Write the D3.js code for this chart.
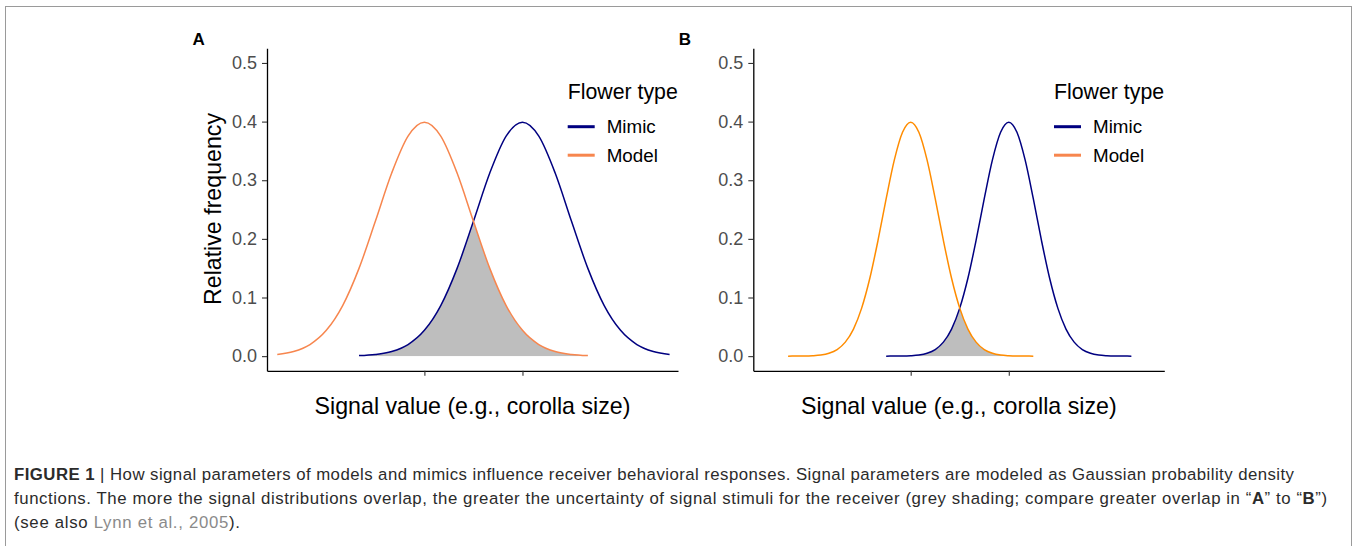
<!DOCTYPE html>
<html>
<head>
<meta charset="utf-8">
<script src="https://cdn.jsdelivr.net/npm/d3@7"></script>
<style>
  body { margin: 0; background: #fff; }
  text { font-family: "Liberation Sans", Arial, Helvetica, sans-serif; }
</style>
</head>
<body>
<svg id="chart" width="1357" height="546"></svg>
<script>
// panel A: signal grid (model mean at 0, mimic mean at 2.1)
const xGridA = [-3.15, -2.8, -2.45, -2.1, -1.75, -1.4, -1.05, -0.7, -0.35, 0, 0.35, 0.7, 1.05,
  1.4, 1.75, 2.1, 2.45, 2.8, 3.15, 3.5, 3.85, 4.2, 4.55, 4.9, 5.25];
const modelA = [0.0028, 0.0079, 0.0198, 0.0440, 0.0863, 0.1497, 0.2299, 0.3123, 0.3752, 0.3989,
  0.3752, 0.3123, 0.2299, 0.1497, 0.0863, 0.0440, 0.0198, 0.0079, 0.0028, 0.0009,
  null, null, null, null, null];
const mimicA = [null, null, null, null, null,
  0.0009, 0.0028, 0.0079, 0.0198, 0.0440, 0.0863, 0.1497, 0.2299, 0.3123, 0.3752, 0.3989,
  0.3752, 0.3123, 0.2299, 0.1497, 0.0863, 0.0440, 0.0198, 0.0079, 0.0028];

// panel B: narrower distributions, same means
const xGridB = [-2.625, -2.45, -2.275, -2.1, -1.925, -1.75, -1.575, -1.4, -1.225, -1.05, -0.875,
  -0.7, -0.525, -0.35, -0.175, 0, 0.175, 0.35, 0.525, 0.7, 0.875, 1.05, 1.225, 1.4, 1.575, 1.75,
  1.925, 2.1, 2.275, 2.45, 2.625, 2.8, 2.975, 3.15, 3.325, 3.5, 3.675, 3.85, 4.025, 4.2, 4.375,
  4.55, 4.725];
const modelB = [0.0000, 0.0001, 0.0002, 0.0007, 0.0019, 0.0049, 0.0113, 0.0239, 0.0462, 0.0819,
  0.1328, 0.1973, 0.2685, 0.3346, 0.3817, 0.3989, 0.3817, 0.3346, 0.2685, 0.1973, 0.1328,
  0.0819, 0.0462, 0.0239, 0.0113, 0.0049, 0.0019, 0.0007, 0.0002, 0.0001, 0.0000,
  null, null, null, null, null, null, null, null, null, null, null, null];
const mimicB = [null, null, null, null, null, null, null, null, null, null, null, null,
  0.0000, 0.0001, 0.0002, 0.0007, 0.0019, 0.0049, 0.0113, 0.0239, 0.0462, 0.0819,
  0.1328, 0.1973, 0.2685, 0.3346, 0.3817, 0.3989, 0.3817, 0.3346, 0.2685, 0.1973, 0.1328,
  0.0819, 0.0462, 0.0239, 0.0113, 0.0049, 0.0019, 0.0007, 0.0002, 0.0001, 0.0000];

const meanTicks = [0, 2.1];
const yTicks = [0, 0.1, 0.2, 0.3, 0.4, 0.5];
const legendTitle = 'Flower type';
const legendLabels = ['Mimic', 'Model'];
const xTitle = 'Signal value (e.g., corolla size)';
const yTitle = 'Relative frequency';

const svg = d3.select('#chart');
svg.append('rect').attr('width', 1357).attr('height', 546).attr('fill', '#fff');
svg.append('rect')
  .attr('x', 5.5).attr('y', 6.5)
  .attr('width', 1346).attr('height', 600)
  .attr('fill', 'none').attr('stroke', '#9a9a9a');

const panels = [
  { label: 'A', dx: 0, xs: xGridA, model: modelA, mimic: mimicA, modelColor: '#F7864E' },
  { label: 'B', dx: 486.3, xs: xGridB, model: modelB, mimic: mimicB, modelColor: '#FF8C00' },
];
const mimicColor = '#000080';
const legendModelColor = '#F7864E';

let x = d3.scaleLinear().domain([-3.37, 5.43]).range([267, 678]);
let y = d3.scaleLinear().domain([-0.025, 0.525]).range([370.8, 48.3]);

panels.forEach((p, pi) => {
  let g = svg.append('g').attr('transform', `translate(${p.dx},0)`);
  let pts = k => p.xs.map((v, i) => ({ x: v, y: p[k][i] }));
  let modelPts = pts('model');
  let mimicPts = pts('mimic');

  let line = d3.line()
    .defined(d => d.y != null)
    .x(d => x(d.x)).y(d => y(d.y))
    .curve(d3.curveMonotoneX);
  let area = d3.area()
    .defined(d => d.y != null)
    .x(d => x(d.x)).y0(y(0)).y1(d => y(d.y))
    .curve(d3.curveMonotoneX);

  // overlap = area under mimic, clipped to area under model
  let clipId = 'clip' + pi;
  g.append('clipPath').attr('id', clipId)
    .append('path').attr('d', area(modelPts));
  g.append('path')
    .attr('d', area(mimicPts))
    .attr('clip-path', `url(#${clipId})`)
    .attr('fill', '#BEBEBE');

  g.append('path').attr('d', line(mimicPts))
    .attr('fill', 'none').attr('stroke', mimicColor).attr('stroke-width', 1.5);
  g.append('path').attr('d', line(modelPts))
    .attr('fill', 'none').attr('stroke', p.modelColor).attr('stroke-width', 1.5);

  // axes
  let yAxis = g.append('g')
    .attr('transform', `translate(${x.range()[0]},0)`)
    .call(d3.axisLeft(y).tickValues(yTicks).tickFormat(d3.format('.1f')).tickSize(5).tickSizeOuter(0).tickPadding(5));
  let xAxis = g.append('g')
    .attr('transform', `translate(0,${y.range()[0]})`)
    .call(d3.axisBottom(x).tickValues(meanTicks).tickFormat('').tickSize(5).tickSizeOuter(0));
  [yAxis, xAxis].forEach(a => {
    a.select('.domain').attr('stroke', '#000').attr('stroke-width', 1.3);
    a.selectAll('.tick line').attr('stroke', '#333').attr('stroke-width', 1.1);
    a.selectAll('.tick text').attr('fill', '#4D4D4D').style('font-size', '18px')
      .style('font-family', '"Liberation Sans", Arial, sans-serif');
  });

  g.append('text').attr('x', 192.5).attr('y', 45)
    .style('font-size', '17px').style('font-weight', 'bold').text(p.label);

  g.append('text')
    .attr('x', (x.range()[0] + x.range()[1]) / 2).attr('y', 414)
    .attr('text-anchor', 'middle').style('font-size', '23.2px').text(xTitle);
  if (pi === 0) {
    g.append('text')
      .attr('transform', 'translate(221,209) rotate(-90)')
      .attr('text-anchor', 'middle').style('font-size', '23.2px').text(yTitle);
  }

  // legend
  let lg = g.append('g').attr('transform', 'translate(567.7,0)');
  lg.append('text').attr('x', 0).attr('y', 99.3).style('font-size', '21.3px').text(legendTitle);
  let cols = [mimicColor, legendModelColor];
  legendLabels.forEach((lab, i) => {
    let ly = 126.7 + i * 28.5;
    lg.append('line').attr('x1', 0).attr('x2', 27).attr('y1', ly).attr('y2', ly)
      .attr('stroke', cols[i]).attr('stroke-width', 3);
    lg.append('text').attr('x', 39).attr('y', ly + 6.6).style('font-size', '18.8px').text(lab);
  });
});

// caption
let cap = svg.append('g').style('font-size', '16.8px').attr('fill', '#2b2b2b');
let l1 = cap.append('text').attr('x', 14).attr('y', 480).attr('textLength', 1280).attr('lengthAdjust', 'spacing');
l1.append('tspan').style('font-weight', 'bold').text('FIGURE 1 ');
l1.append('tspan').text('| How signal parameters of models and mimics influence receiver behavioral responses. Signal parameters are modeled as Gaussian probability density');
let l2 = cap.append('text').attr('x', 14).attr('y', 504).attr('textLength', 1313).attr('lengthAdjust', 'spacing');
l2.append('tspan').text('functions. The more the signal distributions overlap, the greater the uncertainty of signal stimuli for the receiver (grey shading; compare greater overlap in \u201c');
l2.append('tspan').style('font-weight', 'bold').text('A');
l2.append('tspan').text('\u201d to \u201c');
l2.append('tspan').style('font-weight', 'bold').text('B');
l2.append('tspan').text('\u201d)');
let l3 = cap.append('text').attr('x', 14).attr('y', 528).attr('textLength', 226).attr('lengthAdjust', 'spacing');
l3.append('tspan').text('(see also ');
l3.append('tspan').attr('fill', '#8a8a8a').text('Lynn et al., 2005');
l3.append('tspan').text(').');
</script>
</body>
</html>
